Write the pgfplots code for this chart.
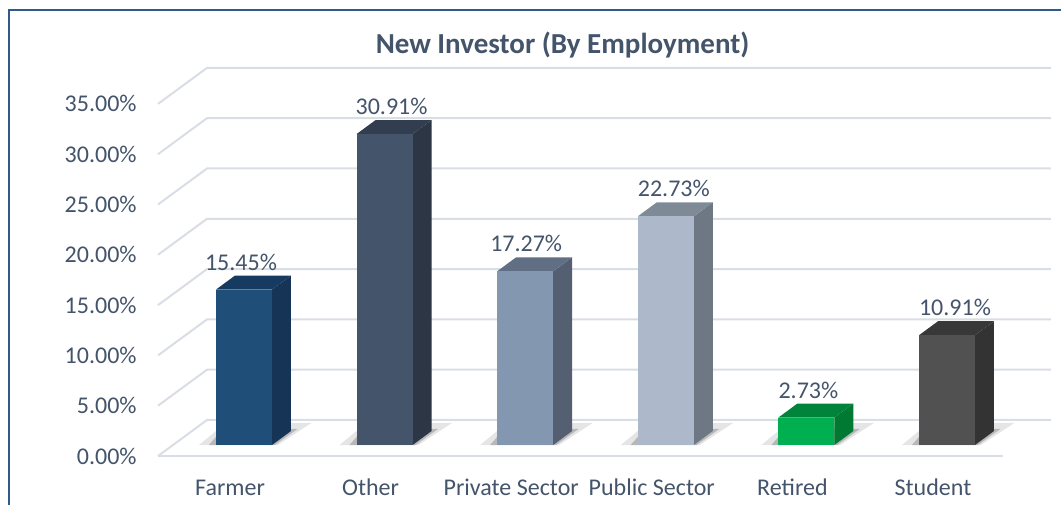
\documentclass[border=0pt]{standalone}
\usepackage{pgfplots}
\pgfplotsset{compat=1.18}
\usepackage{fontspec}
\setmainfont{Carlito}
\definecolor{txt}{RGB}{68,84,106}
\definecolor{gridc}{RGB}{217,221,228}
\definecolor{framec}{RGB}{46,91,138}
\definecolor{fa1}{RGB}{31,78,121}\definecolor{fa2}{RGB}{23,58,96}\definecolor{fa3}{RGB}{21,52,86}
\definecolor{ot1}{RGB}{68,84,106}\definecolor{ot2}{RGB}{50,62,79}\definecolor{ot3}{RGB}{44,54,69}
\definecolor{pr1}{RGB}{132,151,176}\definecolor{pr2}{RGB}{97,111,132}\definecolor{pr3}{RGB}{84,96,113}
\definecolor{pu1}{RGB}{173,185,202}\definecolor{pu2}{RGB}{127,138,151}\definecolor{pu3}{RGB}{110,119,132}
\definecolor{re1}{RGB}{0,176,80}\definecolor{re2}{RGB}{0,132,60}\definecolor{re3}{RGB}{0,122,51}
\definecolor{st1}{RGB}{81,81,81}\definecolor{st2}{RGB}{56,56,56}\definecolor{st3}{RGB}{51,51,51}

% #1 category index, #2 value (%), #3 front colour, #4 top colour, #5 side colour, #6 label xshift
\newcommand{\threedbar}[6]{%
  \pgfmathsetmacro\bL{#1-0.0996}%
  \pgfmathsetmacro\bR{#1+0.2987}%
  \pgfmathsetmacro\bLp{#1+0.0355}%
  \pgfmathsetmacro\bRp{#1+0.4338}%
  \pgfmathsetmacro\bV{#2+1.392}%
  \pgfmathsetmacro\sA{#1-0.2206}%
  \pgfmathsetmacro\sB{#1+0.3400}%
  \pgfmathsetmacro\sC{#1+0.5800}%
  \pgfmathsetmacro\sD{#1-0.0300}%
  \pgfmathsetmacro\tA{#1-0.1500}%
  \pgfmathsetmacro\tB{#1+0.3200}%
  \pgfmathsetmacro\tC{#1+0.4800}%
  \pgfmathsetmacro\tD{#1-0.0500}%
  \edef\tmp{%
    \noexpand\addplot[fill=black, fill opacity=0.10, draw=none, yshift=5.5pt] coordinates {(\sA,0)(\sB,0)(\sC,2.2)(\sD,2.2)};
    \noexpand\addplot[fill=black, fill opacity=0.20, draw=none, yshift=5.5pt] coordinates {(\tA,0)(\tB,0)(\tC,1.6)(\tD,1.6)};
    \noexpand\addplot[fill=#5, draw=none, yshift=5.5pt] coordinates {(\bR,0)(\bR,#2)(\bRp,\bV)(\bRp,1.392)};
    \noexpand\addplot[fill=#4, draw=none, yshift=5.5pt] coordinates {(\bL,#2)(\bR,#2)(\bRp,\bV)(\bLp,\bV)};
  }\tmp
  \addplot[ybar, bar width=28pt, bar shift=7pt, fill=#3, draw=none, yshift=5.5pt,
    nodes near coords={#2\%},
    every node near coord/.append style={anchor=center, text=txt, xshift=#6, yshift=13.75pt,
      font=\fontsize{12}{14}\selectfont}]
    coordinates {(#1,#2)};
}

\begin{document}
\begin{tikzpicture}
\begin{axis}[
  x=70.3pt, y=5.03pt,
  xmin=-1.6358, xmax=5.9104,
  ymin=-4.8708, ymax=45.328,
  clip=false,
  axis line style={draw=none},
  major tick length=0pt,
  xtick={0,1,2,3,4,5},
  xticklabels={Farmer,Other,Private Sector,Public Sector,Retired,Student},
  ytick={0,5,10,15,20,25,30,35},
  yticklabels={0.00\%,5.00\%,10.00\%,15.00\%,20.00\%,25.00\%,30.00\%,35.00\%},
  ticklabel style={text=txt, font=\fontsize{12}{14}\selectfont},
  xticklabel style={anchor=base, yshift=5pt},
  yticklabel style={anchor=east, inner sep=0pt, xshift=68.5pt},
  title={New Investor (By Employment)},
  title style={at={(rel axis cs:0.5302,0.8712)}, anchor=base, text=txt,
    font=\fontsize{14.5}{17}\selectfont\bfseries},
]
% perspective gridlines (front tick -> back wall -> right)
\addplot[gridc, line width=1pt] coordinates {(-0.512,0)(5.498,0)};
\addplot[gridc, line width=1pt] coordinates {(-0.512,0)(-0.1635,3.579)(5.839,3.579)};
\addplot[gridc, line width=1pt] coordinates {(-0.512,5)(-0.1635,8.579)(5.839,8.579)};
\addplot[gridc, line width=1pt] coordinates {(-0.512,10)(-0.1635,13.579)(5.839,13.579)};
\addplot[gridc, line width=1pt] coordinates {(-0.512,15)(-0.1635,18.579)(5.839,18.579)};
\addplot[gridc, line width=1pt] coordinates {(-0.512,20)(-0.1635,23.579)(5.839,23.579)};
\addplot[gridc, line width=1pt] coordinates {(-0.512,25)(-0.1635,28.579)(5.839,28.579)};
\addplot[gridc, line width=1pt] coordinates {(-0.512,30)(-0.1635,33.579)(5.839,33.579)};
\addplot[gridc, line width=1pt] coordinates {(-0.512,35)(-0.1635,38.579)(5.839,38.579)};

\threedbar{0}{15.45}{fa1}{fa2}{fa3}{5.5pt}
\threedbar{1}{30.91}{ot1}{ot2}{ot3}{10.5pt}
\threedbar{2}{17.27}{pr1}{pr2}{pr3}{7.5pt}
\threedbar{3}{22.73}{pu1}{pu2}{pu3}{11pt}
\threedbar{4}{2.73}{re1}{re2}{re3}{8pt}
\threedbar{5}{10.91}{st1}{st2}{st3}{11pt}

\draw[framec, line width=1.25pt] (rel axis cs:1,0.9802) -- (rel axis cs:0.00848,0.9802) -- (rel axis cs:0.00848,0);
\end{axis}
\pgfresetboundingbox
\useasboundingbox (current axis.south west) rectangle (current axis.north east);
\end{tikzpicture}
\end{document}
